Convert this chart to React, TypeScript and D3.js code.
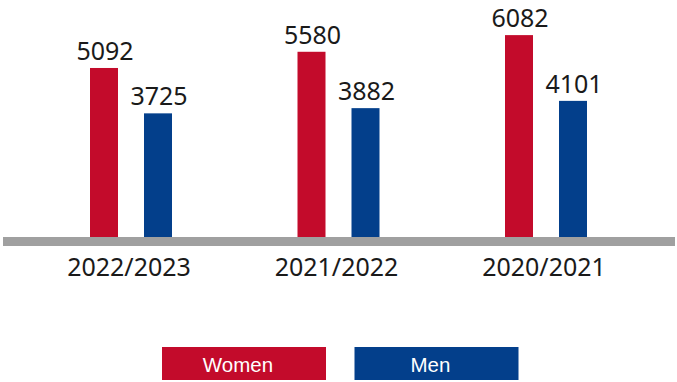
import React from "react";
import * as d3 from "d3";

const categories = ["2022/2023", "2021/2022", "2020/2021"];
const seriesNames = ["Women", "Men"];
const women = [5092, 5580, 6082];
const men = [3725, 3882, 4101];
const colors = ["#c30b2b", "#033f8b"];

const W = 677;
const H = 382;
const baseY = 237;

export default function App() {
  const y = d3.scaleLinear().domain([0, 7140]).range([baseY, 0]);
  const x0 = d3.scalePoint<string>().domain(categories).range([131, 546]);
  const x1 = d3
    .scaleBand<string>()
    .domain(seriesNames)
    .range([0, 82])
    .paddingInner(26 / 54)
    .paddingOuter(0);
  const seriesValues = [women, men];

  return (
    <svg
      width={W}
      height={H}
      style={{ position: "absolute", left: 0, top: 0, display: "block", background: "#fff" }}
    >
      {categories.map((c, i) => {
        const gx = (x0(c) as number) - 41;
        return (
          <g key={c} transform={`translate(${gx},0)`}>
            {seriesNames.map((s, j) => {
              const v = seriesValues[j][i];
              const bx = x1(s) as number;
              return (
                <g key={s}>
                  <rect
                    x={bx}
                    y={y(v)}
                    width={x1.bandwidth()}
                    height={baseY - y(v)}
                    fill={colors[j]}
                  />
                  <text
                    x={bx + x1.bandwidth() / 2 + 1}
                    y={y(v) - 8}
                    textAnchor="middle"
                    fontFamily="'Noto Sans', sans-serif"
                    fontSize={25}
                    fill="#1a1a1a"
                  >
                    {v}
                  </text>
                </g>
              );
            })}
          </g>
        );
      })}
      <rect x={3} y={baseY} width={672} height={9} fill="#a0a0a0" />
      {categories.map((c) => (
        <text
          key={c}
          x={(x0(c) as number) - 2}
          y={276}
          textAnchor="middle"
          fontFamily="'Noto Sans', sans-serif"
          fontSize={25}
          fill="#1a1a1a"
        >
          {c}
        </text>
      ))}
      {seriesNames.map((s, j) => {
        const lx = 162 + j * 192.5;
        return (
          <g key={s}>
            <rect x={lx} y={347} width={164} height={33} fill={colors[j]} />
            <text
              x={lx + 76}
              y={371.5}
              textAnchor="middle"
              fontFamily="'Liberation Sans', Arial, sans-serif"
              fontSize={20.5}
              fill="#ffffff"
            >
              {s}
            </text>
          </g>
        );
      })}
    </svg>
  );
}
